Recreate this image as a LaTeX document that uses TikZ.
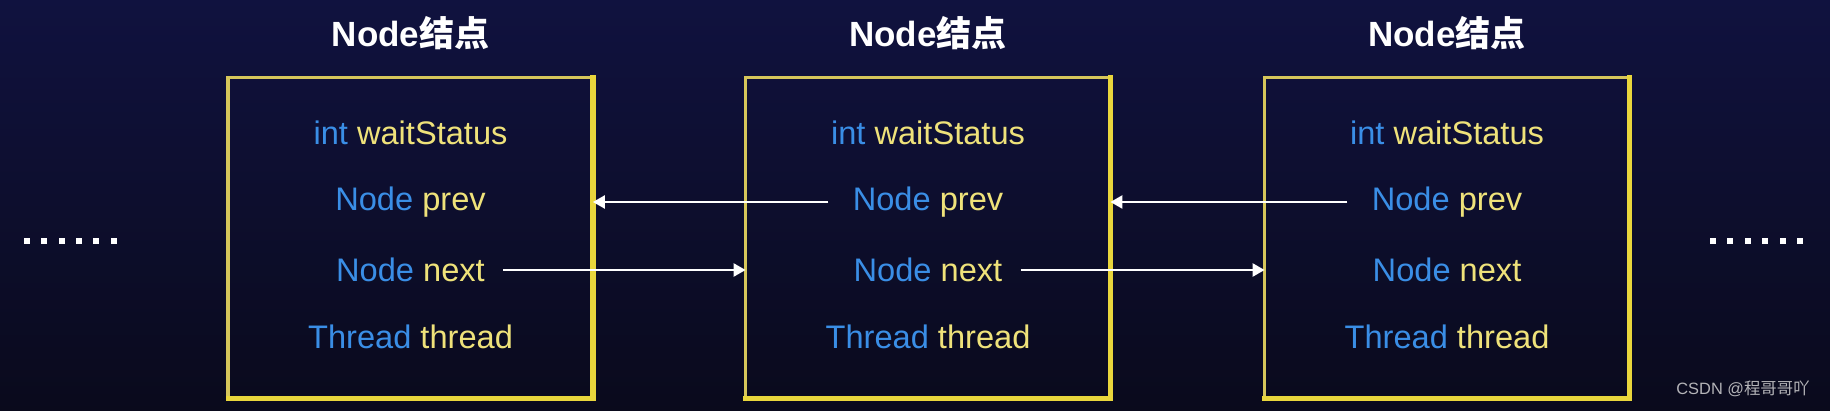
\documentclass[tikz,border=0pt]{standalone}
\usepackage{fontspec}
\setmainfont{Liberation Sans}
\newfontfamily\cjk{Noto Sans CJK SC}
\usetikzlibrary{arrows.meta,calc}
\definecolor{bgtop}{HTML}{10123F}
\definecolor{bgbot}{HTML}{0A0A1C}
\definecolor{tblue}{HTML}{3A8EE6}
\definecolor{tyel}{HTML}{EFE27A}
\definecolor{boxyel}{HTML}{E9D63C}
\definecolor{boxpale}{HTML}{D6C65A}
\definecolor{wm}{HTML}{B4B4B8}
\tikzset{
  field/.style={inner sep=0pt, font=\fontsize{16.3pt}{18pt}\selectfont, anchor=center},
  title/.style={inner sep=0pt, text=white, font=\fontsize{17.5pt}{20pt}\selectfont\bfseries},
  nodebox/.style={minimum width=182pt, minimum height=160pt, inner sep=0pt, draw=none},
  arr/.style={draw=white, line width=1.2pt, -{Triangle[length=6pt,width=6.5pt]}},
  dotsq/.style={fill=white, minimum size=3pt, inner sep=0pt},
}
\newcommand{\fld}[2]{\textcolor{tblue}{#1} \textcolor{tyel}{#2}}
\begin{document}
\begin{tikzpicture}[x=0.5pt,y=-0.5pt]
\useasboundingbox (0,0) rectangle (1830,411);
\shade[top color=bgtop, bottom color=bgbot] (0,0) rectangle (1830,411);
% boxes
\foreach \i/\cx in {1/410.5,2/928,3/1447}{
  \node[nodebox] (b\i) at (\cx,238) {};
  \draw[boxpale, line width=1.7pt] (b\i.south west) -- (b\i.north west) -- (b\i.north east);
  \draw[boxyel, line width=2.6pt, line cap=rect] (b\i.north east) -- (b\i.south east) -- (b\i.south west);
  \node[title] (t\i) at (\cx,33) {Node{\cjk\bfseries 结点}};
  \node[field] (w\i) at (\cx,133) {\fld{int}{waitStatus}};
  \node[field] (p\i) at (\cx,202) {\fld{Node}{prev}};
  \node[field] (n\i) at (\cx,270) {\fld{Node}{next}};
  \node[field] (h\i) at (\cx,337) {\fld{Thread}{thread}};
}
% arrows
\draw[arr] ([xshift=-12pt]p2.west) -- (p2.west -| b1.east);
\draw[arr] ([xshift=-12pt]p3.west) -- (p3.west -| b2.east);
\draw[arr] ([xshift=9pt]n1.east) -- (n1.east -| b2.west);
\draw[arr] ([xshift=9pt]n2.east) -- (n2.east -| b3.west);
% dots
\foreach \k in {0,...,5}{
  \node[dotsq] (ld\k) at (27+17.3*\k,241) {};
  \node[dotsq] (rd\k) at (1713+17.4*\k,241) {};
}
% watermark
\node[inner sep=0pt, text=wm, font=\fontsize{8.2pt}{10pt}\selectfont] (wmk) at (1743,389) {CSDN @{\cjk 程哥哥吖}};
\end{tikzpicture}
\end{document}
